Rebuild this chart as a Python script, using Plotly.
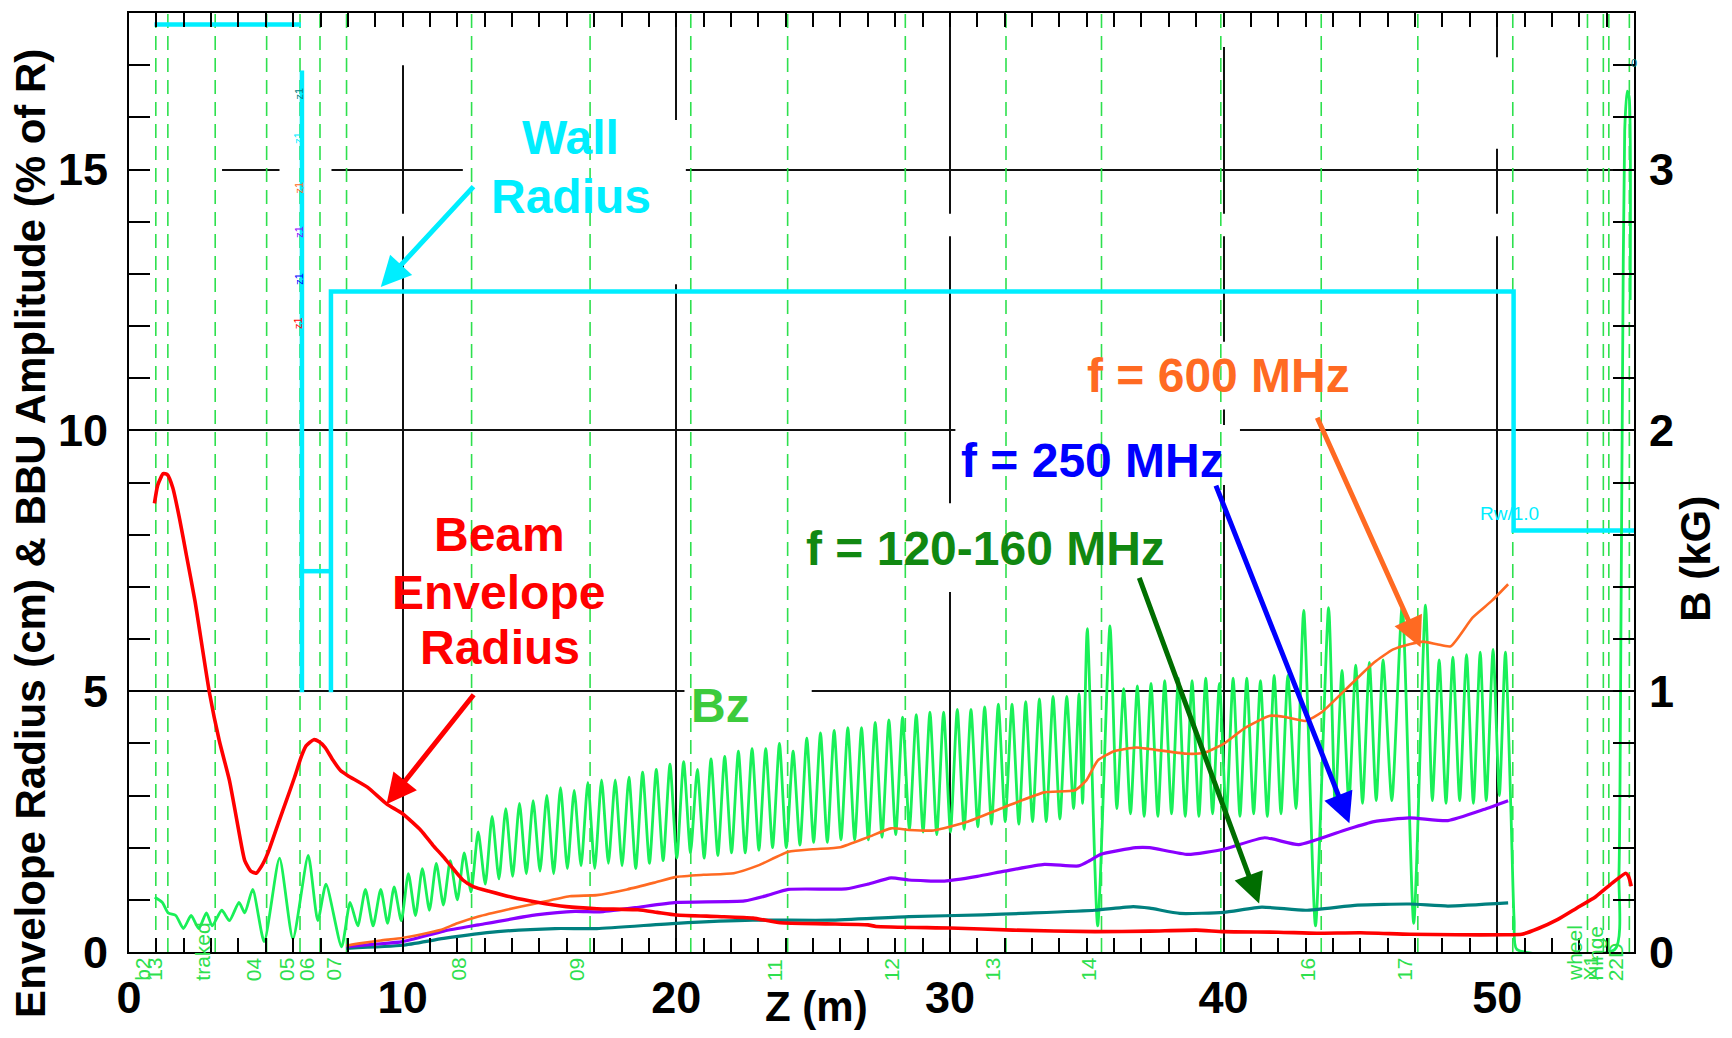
import plotly.graph_objects as go

# ---------------- data ----------------
# Beam envelope radius (cm)
red_z = [0.93, 1.05, 1.25, 1.4, 1.6, 1.85, 2.1, 2.41, 2.94, 3.3, 3.67, 3.95, 4.23, 4.45, 4.65, 4.85,
         5.07, 5.49, 5.75, 6.05, 6.3, 6.47, 6.75, 6.95, 7.17, 7.45, 7.73, 8.0, 8.71, 9.41, 10.0,
         10.67, 11.1, 11.5, 12.2, 12.6, 13.19, 14.0, 14.87, 15.98, 17.1, 18.6, 19.3, 20.0, 21.5,
         22.8, 23.8, 25.5, 27.0, 27.3, 30.0, 32.3, 35.3, 37.3, 39.0, 40.0, 42.0, 43.4, 45.0, 46.8,
         48.5, 50.3, 50.9, 51.5, 52.2, 52.9, 53.6, 54.2, 54.7, 54.8, 54.9]
red_cm = [8.6, 8.95, 9.17, 9.15, 8.9, 8.3, 7.6, 6.73, 4.97, 4.05, 3.29, 2.5, 1.75, 1.55, 1.51, 1.65,
          1.89, 2.52, 2.9, 3.35, 3.75, 3.95, 4.07, 4.03, 3.92, 3.68, 3.48, 3.38, 3.16, 2.84, 2.65,
          2.33, 2.05, 1.82, 1.38, 1.25, 1.16, 1.05, 0.96, 0.87, 0.83, 0.81, 0.76, 0.71, 0.68,
          0.65, 0.56, 0.54, 0.52, 0.49, 0.46, 0.42, 0.39, 0.40, 0.42, 0.39, 0.38, 0.36, 0.37, 0.34,
          0.33, 0.33, 0.34, 0.45, 0.62, 0.84, 1.06, 1.32, 1.51, 1.45, 1.26]

# BBU amplitude, f = 600 MHz (% of R)
f600_z = [7.94, 8.5, 9.2, 10.0, 10.7, 11.37, 12.0, 12.77, 13.8, 14.87, 16.1, 17.1, 18.2, 19.2, 20.0,
          21.0, 22.1, 23.0, 24.1, 25.0, 26.0, 27.0, 27.85, 28.5, 29.4, 30.6, 32.0, 33.45, 34.57,
          35.0, 35.4, 36.0, 36.8, 37.3, 38.7, 39.3, 40.0, 40.8, 41.7, 42.3, 43.0, 43.6, 44.4, 45.5,
          46.2, 46.8, 47.3, 47.8, 48.3, 49.1, 49.8, 50.4]
f600_amp = [0.12, 0.17, 0.22, 0.27, 0.34, 0.42, 0.55, 0.68, 0.81, 0.93, 1.07, 1.09, 1.2, 1.33, 1.44,
            1.48, 1.51, 1.66, 1.92, 1.97, 2.01, 2.2, 2.37, 2.34, 2.33, 2.49, 2.78, 3.06, 3.1,
            3.3, 3.67, 3.85, 3.92, 3.89, 3.8, 3.82, 3.99, 4.3, 4.53, 4.5, 4.43, 4.6, 5.0, 5.55,
            5.8, 5.9, 5.95, 5.9, 5.86, 6.41, 6.73, 7.05]

# BBU amplitude, f = 250 MHz
f250_z = [7.94, 9.0, 10.0, 11.5, 12.77, 14.87, 16.3, 17.2, 18.5, 20.0, 22.5, 23.3, 24.1, 26.2, 27.0,
          27.85, 28.5, 29.8, 31.0, 32.0, 33.45, 34.7, 35.1, 35.5, 36.8, 37.3, 38.7, 40.0, 41.5,
          42.75, 44.5, 45.5, 46.8, 48.2, 49.5, 50.4]
f250_amp = [0.1, 0.15, 0.2, 0.4, 0.52, 0.71, 0.78, 0.77, 0.85, 0.95, 0.98, 1.08, 1.2, 1.21, 1.3,
            1.42, 1.38, 1.36, 1.45, 1.55, 1.68, 1.65, 1.75, 1.87, 2.0, 2.0, 1.87, 1.97, 2.19,
            2.06, 2.35, 2.5, 2.57, 2.52, 2.73, 2.9]

# BBU amplitude, f = 120-160 MHz
f140_z = [7.94, 10.0, 11.5, 13.47, 15.57, 17.1, 20.0, 22.8, 25.6, 28.5, 31.2, 32.6, 35.3, 36.7, 37.3,
          38.4, 40.0, 41.4, 43.0, 44.9, 46.8, 48.2, 50.4]
f140_amp = [0.07, 0.13, 0.26, 0.39, 0.45, 0.45, 0.55, 0.61, 0.61, 0.68, 0.71, 0.74, 0.8, 0.87, 0.84,
            0.74, 0.76, 0.86, 0.8, 0.9, 0.92, 0.88, 0.94]

# Solenoid field Bz (kG): (z, B) vertices, peaks and troughs
bz_pts = [
    (0.94, 0.21), (1.22, 0.19), (1.43, 0.15), (1.71, 0.14), (1.99, 0.09), (2.27, 0.14), (2.55, 0.09),
    (2.83, 0.15), (3.04, 0.10), (3.39, 0.16), (3.67, 0.12), (4.02, 0.19), (4.23, 0.15), (4.52, 0.24),
    (4.94, 0.04), (5.50, 0.36), (5.99, 0.05), (6.55, 0.37), (6.90, 0.12), (7.20, 0.26), (7.77, 0.02),
    (8.08, 0.19), (8.36, 0.10), (8.64, 0.24), (8.92, 0.10), (9.20, 0.24), (9.45, 0.11), (9.69, 0.25),
    (9.95, 0.12), (10.21, 0.30), (10.47, 0.14), (10.72, 0.32), (10.98, 0.16), (11.23, 0.34),
    (11.49, 0.18), (11.74, 0.35), (12.00, 0.20), (12.25, 0.38), (12.50, 0.23), (12.76, 0.46),
    (13.02, 0.26), (13.27, 0.52), (13.52, 0.28), (13.77, 0.55), (14.02, 0.29), (14.27, 0.57),
    (14.52, 0.30), (14.77, 0.58), (15.02, 0.31), (15.27, 0.60), (15.52, 0.30), (15.77, 0.63),
    (16.02, 0.32), (16.27, 0.62), (16.52, 0.33), (16.77, 0.65), (17.02, 0.32), (17.27, 0.66),
    (17.52, 0.34), (17.77, 0.66), (18.02, 0.33), (18.27, 0.67), (18.52, 0.32), (18.77, 0.69),
    (19.02, 0.34), (19.27, 0.70), (19.52, 0.35), (19.77, 0.72), (20.02, 0.36), (20.27, 0.73),
    (20.52, 0.38), (20.77, 0.70), (21.02, 0.36), (21.27, 0.74), (21.52, 0.37), (21.77, 0.75),
    (22.02, 0.38), (22.27, 0.77), (22.52, 0.38), (22.77, 0.78), (23.02, 0.39), (23.27, 0.78),
    (23.52, 0.40), (23.77, 0.80), (24.02, 0.40), (24.27, 0.77), (24.52, 0.41), (24.77, 0.82),
    (25.02, 0.42), (25.27, 0.84), (25.52, 0.42), (25.77, 0.85), (26.02, 0.43), (26.27, 0.86),
    (26.52, 0.43), (26.77, 0.86), (27.02, 0.43), (27.27, 0.88), (27.52, 0.44), (27.77, 0.89),
    (28.02, 0.45), (28.27, 0.90), (28.52, 0.47), (28.77, 0.91), (29.02, 0.46), (29.27, 0.92),
    (29.52, 0.45), (29.77, 0.92), (30.02, 0.46), (30.27, 0.93), (30.52, 0.47), (30.77, 0.93),
    (31.02, 0.48), (31.27, 0.94), (31.52, 0.49), (31.77, 0.95), (32.02, 0.50), (32.27, 0.95),
    (32.52, 0.49), (32.77, 0.96), (33.02, 0.50), (33.27, 0.97), (33.52, 0.50), (33.77, 0.98),
    (34.02, 0.51), (34.27, 0.98), (34.52, 0.55), (34.72, 0.99), (34.85, 0.57), (35.02, 1.24),
    (35.40, 0.10), (35.85, 1.25), (36.10, 0.55), (36.35, 1.01), (36.60, 0.53), (36.85, 1.02),
    (37.10, 0.52), (37.35, 1.03), (37.60, 0.52), (37.85, 1.04), (38.10, 0.53), (38.35, 1.05),
    (38.60, 0.52), (38.85, 1.04), (39.10, 0.52), (39.35, 1.05), (39.60, 0.53), (39.85, 1.03),
    (40.10, 0.52), (40.35, 1.05), (40.60, 0.52), (40.85, 1.05), (41.10, 0.53), (41.35, 1.04),
    (41.60, 0.52), (41.85, 1.06), (42.10, 0.53), (42.35, 1.06), (42.65, 0.55), (42.93, 1.31),
    (43.36, 0.10), (43.84, 1.32), (44.08, 0.56), (44.33, 1.08), (44.58, 0.57), (44.83, 1.10),
    (45.08, 0.57), (45.33, 1.11), (45.58, 0.58), (45.83, 1.12), (46.15, 0.58), (46.53, 1.33),
    (46.95, 0.11), (47.38, 1.33), (47.63, 0.58), (47.88, 1.12), (48.13, 0.57), (48.38, 1.13),
    (48.63, 0.58), (48.88, 1.14), (49.13, 0.57), (49.38, 1.15), (49.60, 0.58), (49.85, 1.16),
    (50.08, 0.60), (50.30, 1.15), (50.50, 0.55), (50.62, 0.12), (50.72, 0.01), (54.30, 0.01),
    (54.45, 0.30), (54.52, 1.20), (54.58, 2.20), (54.66, 3.15), (54.75, 3.30), (54.82, 3.28),
    (54.86, 2.50),
]

# Wall radius step line (None = break)
wall_z = [0.93, 6.28, None, 6.32, 6.32, None, 6.32, 7.38, None, 7.38, 7.38, 50.6, 50.6, 55.0]
wall_r = [17.78, 17.78, None, 16.9, 4.98, None, 7.3, 7.3, None, 4.98, 12.66, 12.66, 8.08, 8.08]

# Beam-line element markers
elem_z = [0.98, 1.42, 3.15, 5.03, 6.25, 6.98, 7.95, 12.52, 16.85, 20.53, 24.07, 28.37, 32.05,
          35.54, 39.9, 43.57, 47.1, 50.57, 53.3, 53.88, 54.08, 54.83, 55.45]
elem_names = ["b2", "13", "traked", "04", "05", "06", "07", "08", "09", "", "11", "12", "13",
              "14", "", "16", "17", "", "wheel", "X1", "Hinge", "22D", "_stop"]

x_ticks = [0, 10, 20, 30, 40, 50]
y_ticks = [0, 5, 10, 15]
y2_ticks = [0, 1, 2, 3]

# ---------------- styles ----------------
FONT = "Liberation Sans, Arial, sans-serif"
DASHG = "#2EE04E"
BZG = "#19F058"
CYAN = "#00EEFF"
RED = "#FF0000"
ORANGE = "#FF6A22"
PURPLE = "#8A00FF"
TEAL = "#00807F"

fig = go.Figure()

ex, ey = [], []
for z in elem_z:
    ex += [z, z, None]
    ey += [0, 18, None]
fig.add_trace(go.Scatter(x=ex, y=ey, mode="lines", yaxis="y",
                         line=dict(color=DASHG, width=1.6, dash="14px,8px"),
                         hoverinfo="skip", showlegend=False))
fig.add_trace(go.Scatter(x=wall_z, y=wall_r, mode="lines", yaxis="y",
                         line=dict(color=CYAN, width=4.5), connectgaps=False, showlegend=False))
fig.add_trace(go.Scatter(x=[p[0] for p in bz_pts], y=[p[1] for p in bz_pts], mode="lines",
                         yaxis="y2", line=dict(color=BZG, width=2.8, shape="spline", smoothing=0.6),
                         showlegend=False))
fig.add_trace(go.Scatter(x=f140_z, y=f140_amp, mode="lines", yaxis="y3",
                         line=dict(color=TEAL, width=3.2, shape="spline", smoothing=0.5), showlegend=False))
fig.add_trace(go.Scatter(x=f250_z, y=f250_amp, mode="lines", yaxis="y3",
                         line=dict(color=PURPLE, width=3.2, shape="spline", smoothing=0.5), showlegend=False))
fig.add_trace(go.Scatter(x=f600_z, y=f600_amp, mode="lines", yaxis="y3",
                         line=dict(color=ORANGE, width=2.6, shape="spline", smoothing=0.5), showlegend=False))
fig.add_trace(go.Scatter(x=red_z, y=red_cm, mode="lines", yaxis="y3",
                         line=dict(color=RED, width=3.6, shape="spline", smoothing=0.5), showlegend=False))

# white label boxes that interrupt the grid (drawn between grid and data)
boxes = [
    (0.5, 3.4, 14.75, 15.25), (5.5, 7.4, 14.75, 15.25),
    (12.2, 20.35, 12.8, 15.95),            # Wall Radius
    (20.3, 24.95, 4.3, 5.25),              # Bz
    (24.7, 38.3, 6.9, 8.6),                # 120-160 MHz
    (30.2, 40.6, 8.95, 10.1),              # 250 MHz
    (35.8, 45.5, 10.4, 11.7),              # 600 MHz
    (8.5, 51.0, 13.72, 14.15),
    (8.0, 12.0, 17.0, 18.0), (38.0, 42.0, 17.35, 18.0), (48.8, 51.2, 15.4, 17.15),
]
shapes = []
for x0, x1, y0, y1 in boxes:
    shapes.append(dict(type="rect", xref="x", yref="y", x0=x0, x1=x1, y0=y0, y1=y1,
                       fillcolor="white", line=dict(width=0), layer="between"))

ann = []
def label(text, x, y, color, size=48):
    ann.append(dict(text="<b>%s</b>" % text, x=x, y=y, xref="x", yref="y", showarrow=False,
                    xanchor="center", yanchor="middle",
                    font=dict(family=FONT, size=size, color=color)))

label("Wall", 16.15, 15.61, CYAN)
label("Radius", 16.15, 14.49, CYAN)
label("Beam", 13.53, 8.0, RED)
label("Envelope", 13.51, 6.9, RED)
label("Radius", 13.55, 5.84, RED)
label("Bz", 21.6, 4.72, "#3CCB3C")
label("f = 120-160 MHz", 31.3, 7.74, "#118811")
label("f = 250 MHz", 35.2, 9.43, "#0000FF")
label("f = 600 MHz", 39.8, 11.05, ORANGE)

def arrow(x, y, ax, ay, color):
    ann.append(dict(text="", x=x, y=y, ax=ax, ay=ay, xref="x", yref="y", axref="x", ayref="y",
                    showarrow=True, arrowhead=2, arrowsize=1.2, arrowwidth=5, arrowcolor=color,
                    standoff=0, startstandoff=0))

arrow(9.2, 12.75, 12.64, 14.7, CYAN)
arrow(9.41, 2.83, 12.64, 4.96, RED)
arrow(41.3, 0.93, 36.9, 7.2, "#006E00")
arrow(44.6, 2.47, 39.7, 8.97, "#0000FF")
arrow(47.2, 5.84, 43.4, 10.27, ORANGE)

for z, name in zip(elem_z, elem_names):
    if name:
        ann.append(dict(text=name, x=z, y=0, xref="x", yref="y", showarrow=False,
                        textangle=-90, xanchor="right", yanchor="bottom", yshift=-31,
                        font=dict(family=FONT, size=21, color=DASHG)))

ann.append(dict(text="Rw/1.0", x=49.3, y=8.4, xref="x", yref="y", showarrow=False,
                xanchor="left", yanchor="middle", font=dict(family=FONT, size=19, color=CYAN)))
ann.append(dict(text="0", x=55.0, y=17.05, xref="x", yref="y", showarrow=False,
                xanchor="center", font=dict(family=FONT, size=11, color=TEAL)))
for yv, col in [(16.45, TEAL), (15.6, CYAN), (14.65, ORANGE), (13.8, PURPLE), (12.9, "#0000FF"), (12.05, RED)]:
    ann.append(dict(text="z1", x=6.2, y=yv, xref="x", yref="y", showarrow=False, textangle=-90,
                    xanchor="center", font=dict(family=FONT, size=11, color=col)))

# axis titles
ann.append(dict(text="<b>Envelope Radius (cm) & BBU Amplitude (% of R)</b>", xref="paper",
                yref="paper", x=-0.0651, y=0.4453, textangle=-90, showarrow=False,
                xanchor="center", yanchor="middle", font=dict(family=FONT, size=42, color="black")))
ann.append(dict(text="<b>B (kG)</b>", xref="paper", yref="paper", x=1.0412, y=0.4187,
                textangle=-90, showarrow=False, xanchor="center", yanchor="middle",
                font=dict(family=FONT, size=42, color="black")))
ann.append(dict(text="<b>Z (m)</b>", xref="paper", yref="paper", x=0.457, y=-0.0584,
                showarrow=False, xanchor="center", yanchor="middle",
                font=dict(family=FONT, size=42, color="black")))

tickfont = dict(family=FONT, size=45, color="black", weight="bold")

fig.update_layout(
    width=1732, height=1038, autosize=False,
    margin=dict(l=129, r=98, t=11, b=86),
    paper_bgcolor="white", plot_bgcolor="white",
    showlegend=False,
    shapes=shapes, annotations=ann,
    xaxis=dict(range=[0, 55], tickmode="array", tickvals=x_ticks, ticktext=[str(v) for v in x_ticks],
               ticks="inside", ticklen=14, tickwidth=1.5, tickcolor="black",
               minor=dict(tickmode="linear", tick0=0, dtick=1, ticks="inside", ticklen=14,
                          tickwidth=1.5, tickcolor="black", showgrid=False),
               showline=True, linecolor="black", linewidth=2, mirror="ticks",
               showgrid=True, gridcolor="#111111", gridwidth=1.5, zeroline=False,
               tickfont=tickfont, ticklabelstandoff=5),
    yaxis=dict(range=[0, 18], tickmode="array", tickvals=y_ticks,
               ticks="inside", ticklen=21, tickwidth=1.5, tickcolor="black",
               minor=dict(tickmode="linear", tick0=0, dtick=1, ticks="inside", ticklen=21,
                          tickwidth=1.5, tickcolor="black", showgrid=False),
               showline=True, linecolor="black", linewidth=2,
               showgrid=True, gridcolor="#111111", gridwidth=1.5, zeroline=False,
               tickfont=tickfont, ticklabelstandoff=10),
    yaxis2=dict(range=[0, 3.6], overlaying="y", side="right", tickmode="array", tickvals=y2_ticks,
                ticks="inside", ticklen=21, tickwidth=1.5, tickcolor="black",
                minor=dict(tickmode="linear", tick0=0, dtick=0.2, ticks="inside", ticklen=21,
                           tickwidth=1.5, tickcolor="black", showgrid=False),
                showline=True, linecolor="black", linewidth=2, showgrid=False, zeroline=False,
                tickfont=tickfont, ticklabelstandoff=4),
    yaxis3=dict(range=[0, 18], overlaying="y", visible=False),
)

fig.write_html("out.html")
